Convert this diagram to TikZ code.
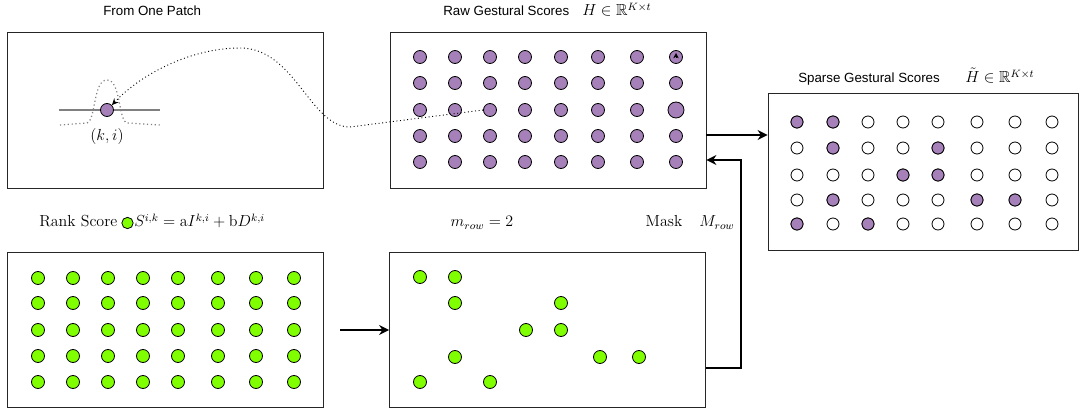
\documentclass[tikz,border=0pt]{standalone}
\usepackage{amssymb}
\usepackage{fontspec}
\newfontfamily\arialfont{Liberation Sans}
\usetikzlibrary{arrows.meta}
\definecolor{gesture}{HTML}{A680B8}
\definecolor{rankgreen}{HTML}{80FF00}
\begin{document}
\begin{tikzpicture}[x=0.75pt,y=0.75pt,yscale=-1,xscale=1,
  box/.style={draw=black!85, line width=0.6pt, inner sep=0pt, minimum width=237pt, minimum height=117pt},
  pdot/.style={circle, draw, fill=gesture, inner sep=0pt, minimum size=9.75pt, line width=0.6pt},
  gdot/.style={pdot, fill=rankgreen},
  odot/.style={pdot, fill=white, minimum size=9pt},
  bigarrow/.style={line width=1.9pt, -{Stealth[length=7.5pt,width=7.5pt]}},
  title/.style={font=\arialfont, anchor=base west, inner sep=0pt},
  tagtext/.style={font=\large, anchor=base, inner sep=0pt}]
\useasboundingbox (0,0) rectangle (1083,413);
% boxes
\node [box] (patch) at (165,110) {};
\node [box] (raw) at (548,110) {};
\node [box, minimum width=232.5pt, minimum height=117.75pt] (sparse) at (923,171.5) {};
\node [box, minimum height=116.25pt] (rank) at (165,329.5) {};
\node [box, minimum height=116.25pt] (mask) at (547.5,329.5) {};
% titles
\node [title] (patchtitle) at (103,16) {From One Patch};
\node [title] (rawtitle) at (443,16) {Raw Gestural Scores};
\node [tagtext, anchor=base west] (rawmath) at (582,16) {$H\in\mathbb{R}^{K\times t}$};
\node [title] (sparsetitle) at (798,83) {Sparse Gestural Scores};
\node [tagtext, anchor=base west] (sparsemath) at (965,83) {$\tilde{H}\in\mathbb{R}^{K\times t}$};
\node [tagtext, anchor=base west] (ranktitle) at (39,227) {Rank Score};
\node [gdot, minimum size=8.5pt] (rankkey) at (127.5,223) {};
\node [tagtext, anchor=base west] (rankformula) at (134,227) {$S^{i,k}=\mathrm{a}I^{k,i}+\mathrm{b}D^{k,i}$};
\node [tagtext] (mrow) at (482,227) {$m_{row}=2$};
\node [tagtext] (masktitle) at (664,227) {Mask};
\node [tagtext] (Mrow) at (717,227) {$M_{row}$};
% one patch
\draw [gray, line width=1.1pt] (59,110) -- (160,110);
\draw [gray, dotted, line width=0.9pt] (60,125) -- (87,123) .. controls (96,120) and (93,80) .. (107,80) .. controls (121,80) and (118,120) .. (127,123) -- (160,125);
\node [pdot] (patchdot) at (107,110) {};
\node [tagtext] (ki) at (107,141) {$(k,i)$};
% raw gestural scores
\foreach \x [count=\c] in {420,455,490,525,561,598,637,676}
  \foreach \y [count=\r] in {57,83,110,136,162}
    \node [pdot] (r-\r-\c) at (\x,\y) {};
\node [pdot, minimum size=12pt] (r-big) at (r-3-8) {};
\draw [-{Stealth[length=4pt,width=4pt]}] (676,58) -- (676,53);
\draw [dotted, line width=0.7pt, -{Stealth[length=5pt,width=4.5pt]}] (r-3-3.west) -- (350,127) .. controls (310,127) and (295,48) .. (240,48) .. controls (190,48) and (140,75) .. (patchdot.north east);
% rank scores
\foreach \x [count=\c] in {38,73,108,143,178,218,256,294}
  \foreach \y [count=\r] in {278,303,330,356,382}
    \node [gdot] (g-\r-\c) at (\x,\y) {};
% kept after the mask
\foreach \x/\y [count=\n] in {420/277,455/277,455/303,561/303,526/330,561/330,455/357,600/357,639/357,420/382,490/382}
  \node [gdot] (m-\n) at (\x,\y) {};
% sparse gestural scores
\foreach \x [count=\c] in {797,833,868,903,938,977,1015,1052}
  \foreach \y [count=\r] in {122,148,175,200,224}
    \node [odot] (s-\r-\c) at (\x,\y) {};
\foreach \r/\c in {1/1,1/2,2/2,2/5,3/4,3/5,4/2,4/6,4/7,5/1,5/3}
  \node [pdot, minimum size=9pt] (f-\r-\c) at (s-\r-\c) {};
% arrows
\coordinate (toSparse) at (706,135);
\draw [bigarrow] (toSparse) -- (toSparse -| sparse.west);
\coordinate (rankOut) at (340,330);
\draw [bigarrow] (rankOut) -- (rankOut -| mask.west);
\coordinate (maskOut) at (706,368);
\coordinate (maskTurn) at (741,160);
\draw [bigarrow] (maskOut) -| (maskTurn) -- (maskTurn -| raw.east);
\end{tikzpicture}
\end{document}
